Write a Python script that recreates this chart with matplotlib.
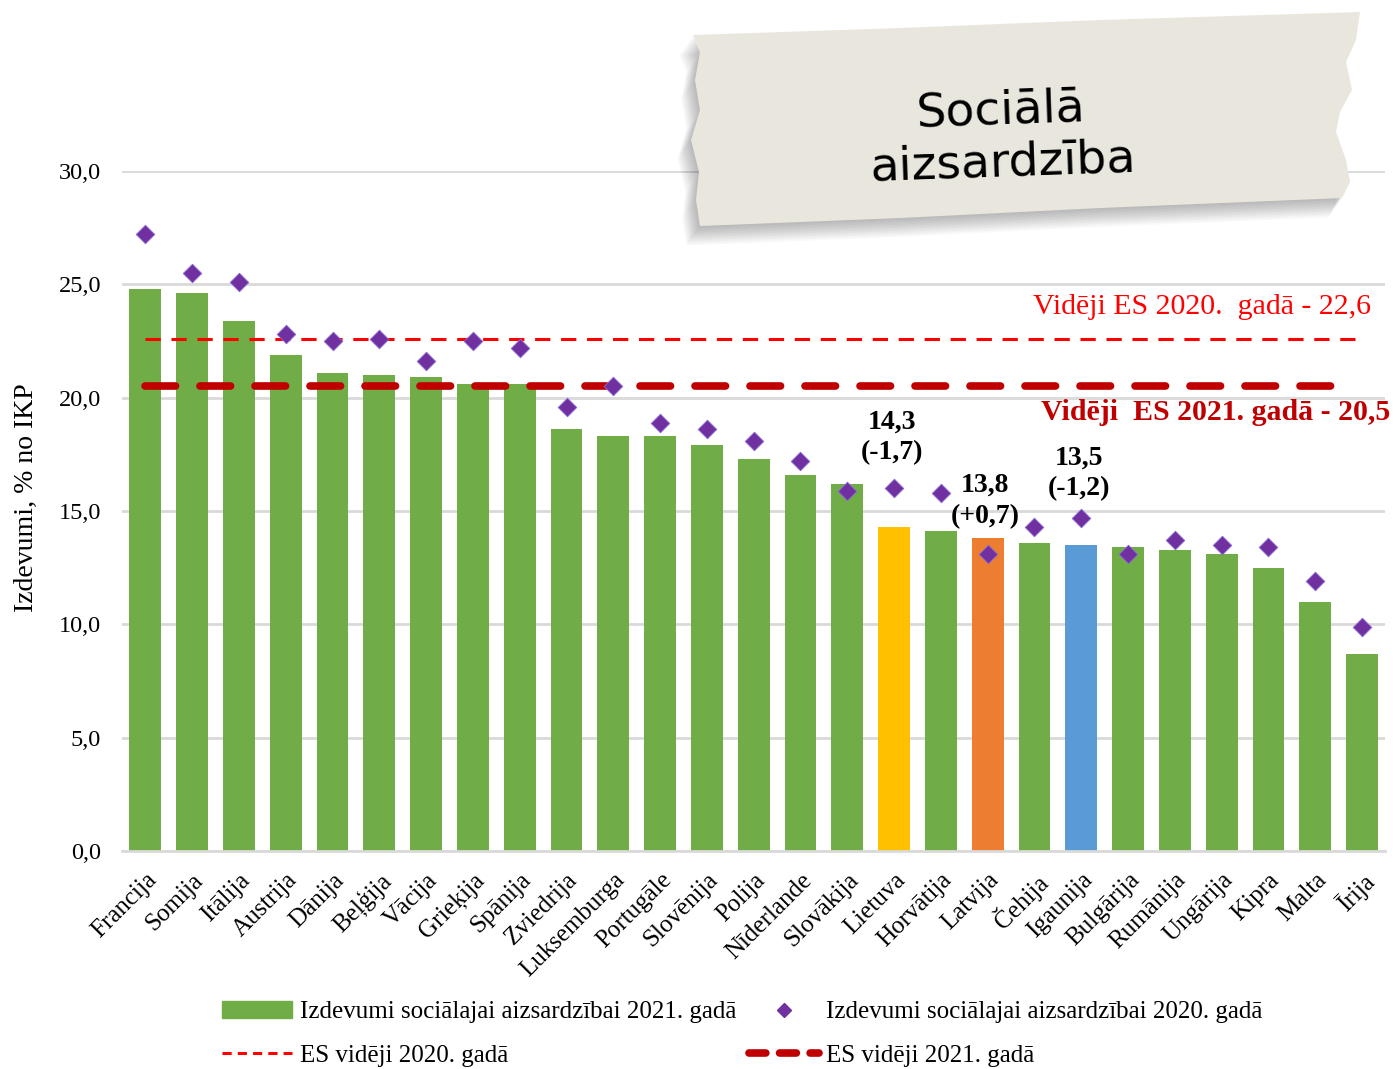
import matplotlib.pyplot as plt
from matplotlib.patches import Polygon, Patch
from matplotlib.lines import Line2D

countries = ["Francija", "Somija", "Itālija", "Austrija", "Dānija", "Beļģija", "Vācija",
             "Grieķija", "Spānija", "Zviedrija", "Luksemburga", "Portugāle", "Slovēnija",
             "Polija", "Nīderlande", "Slovākija", "Lietuva", "Horvātija", "Latvija",
             "Čehija", "Igaunija", "Bulgārija", "Rumānija", "Ungārija", "Kipra", "Malta", "Īrija"]
val_2021 = [24.8, 24.6, 23.4, 21.9, 21.1, 21.0, 20.9, 20.6, 20.6, 18.6, 18.3, 18.3, 17.9,
            17.3, 16.6, 16.2, 14.3, 14.1, 13.8, 13.6, 13.5, 13.4, 13.3, 13.1, 12.5, 11.0, 8.7]
val_2020 = [27.2, 25.5, 25.1, 22.8, 22.5, 22.6, 21.6, 22.5, 22.2, 19.6, 20.5, 18.9, 18.6,
            18.1, 17.2, 15.9, 16.0, 15.8, 13.1, 14.3, 14.7, 13.1, 13.7, 13.5, 13.4, 11.9, 9.9]
eu_2020 = 22.6
eu_2021 = 20.5
highlight = {"Lietuva": "#FFC000", "Latvija": "#ED7D31", "Igaunija": "#5B9BD5"}
notes = {"Lietuva": "14,3\n(-1,7)", "Latvija": "13,8\n(+0,7)", "Igaunija": "13,5\n(-1,2)"}
# how far above the highest mark each note sits (data units)
note_gap = {"Lietuva": 2.25, "Latvija": 1.65, "Igaunija": 1.95}

SERIF = "Liberation Serif"
GREEN = "#70AD47"
PURPLE = "#7030A0"

fig = plt.figure(figsize=(13.96, 10.69), dpi=100)
ax = fig.add_axes([0.0874, 0.204, 0.905, 0.636])

x = list(range(len(countries)))
colors = [highlight.get(c, GREEN) for c in countries]
ax.bar(x, val_2021, width=0.68, color=colors, zorder=2)
ax.scatter(x, val_2020, marker="D", s=90, color=PURPLE, edgecolor="#8C6BD9",
           linewidth=0.6, zorder=4)
ax.hlines(eu_2020, 0, 26, colors="#FF0000", linewidth=2.2, linestyles=(0, (5, 3.5)), zorder=3)
ax.hlines(eu_2021, 0, 25.6, colors="#C00000", linewidth=5.5, linestyles=(0, (4, 3.2)),
          capstyle="round", zorder=3)

for c, txt in notes.items():
    i = countries.index(c)
    top = max(val_2021[i], val_2020[i])
    ax.text(i - 0.05, top + note_gap[c], txt, ha="center", va="center", fontsize=20,
            fontweight="bold", family=SERIF, linespacing=1.3, zorder=5)

ax.text(26.2, 24.0, "Vidēji ES 2020.  gadā - 22,6", ha="right", va="center",
        fontsize=21.5, color="#FF0000", family=SERIF, zorder=5)
ax.text(26.6, 19.35, "Vidēji  ES 2021. gadā - 20,5", ha="right", va="center",
        fontsize=21.5, color="#C00000", fontweight="bold", family=SERIF, zorder=5)

ax.set_xlim(-0.5, 26.5)
ax.set_ylim(0, 30)
ax.set_yticks([0, 5, 10, 15, 20, 25, 30])
ax.set_yticklabels([f"{v:.1f}".replace(".", ",") for v in [0, 5, 10, 15, 20, 25, 30]],
                   family=SERIF, fontsize=17.5)
ax.set_xticks(x)
ax.set_xticklabels(countries, rotation=45, ha="right", rotation_mode="anchor",
                   family=SERIF, fontsize=18)
ax.tick_params(axis="y", length=0, pad=15)
ax.tick_params(axis="x", length=0, pad=13)
ax.grid(axis="y", color="#D9D9D9", linewidth=2, zorder=0)
ax.set_axisbelow(True)
for s in ["top", "right", "left"]:
    ax.spines[s].set_visible(False)
ax.spines["bottom"].set_color("#D9D9D9")
ax.spines["bottom"].set_linewidth(2)
ax.set_ylabel("Izdevumi, % no IKP", family=SERIF, fontsize=20)
ax.yaxis.set_label_coords(-0.066, 0.52)

# legend
handles = [Patch(color=GREEN),
           Line2D([], [], color="#FF0000", linewidth=2.2, linestyle=(0, (3, 2))),
           Line2D([], [], marker="D", color=PURPLE, linestyle="none", markersize=7),
           Line2D([], [], color="#C00000", linewidth=5.5, linestyle=(0, (2.2, 1.8)),
                  solid_capstyle="round", dash_capstyle="round")]
labels = ["Izdevumi sociālajai aizsardzībai 2021. gadā", "ES vidēji 2020. gadā",
          "Izdevumi sociālajai aizsardzībai 2020. gadā", "ES vidēji 2021. gadā"]
fig.legend(handles, labels, ncol=2, loc="upper left", bbox_to_anchor=(0.152, 0.073),
           frameon=False, prop={"family": SERIF, "size": 18}, handlelength=2.8,
           handletextpad=0.3, columnspacing=0.5, labelspacing=0.85, borderaxespad=0)

# torn tape label with soft shadow
def fx(px, py):
    return (px / 1396, 1 - py / 1069)

tape_px = [(693, 35), (900, 28), (1100, 20), (1360, 12), (1356, 40), (1346, 62),
           (1352, 90), (1340, 112), (1336, 132), (1346, 160), (1350, 182), (1342, 198),
           (1100, 208), (900, 218), (700, 226), (696, 200), (699, 172), (691, 140),
           (700, 110), (695, 80), (700, 52)]
for k in range(12):
    d = 2 + 1.6 * k
    shadow = Polygon([fx(px - d * 0.7, py + d) for px, py in tape_px], closed=True,
                     facecolor="black", edgecolor="none", alpha=0.025,
                     transform=fig.transFigure, zorder=5)
    fig.add_artist(shadow)
tape = Polygon([fx(px, py) for px, py in tape_px], closed=True, facecolor="#E9E7DD",
               edgecolor="none", transform=fig.transFigure, zorder=6)
fig.add_artist(tape)
fig.text(*fx(1002, 137), "Sociālā\naizsardzība", ha="center", va="center", fontsize=34,
         family="DejaVu Sans", rotation=2, linespacing=1.2, zorder=7)

fig.savefig("out.png", dpi=100)
